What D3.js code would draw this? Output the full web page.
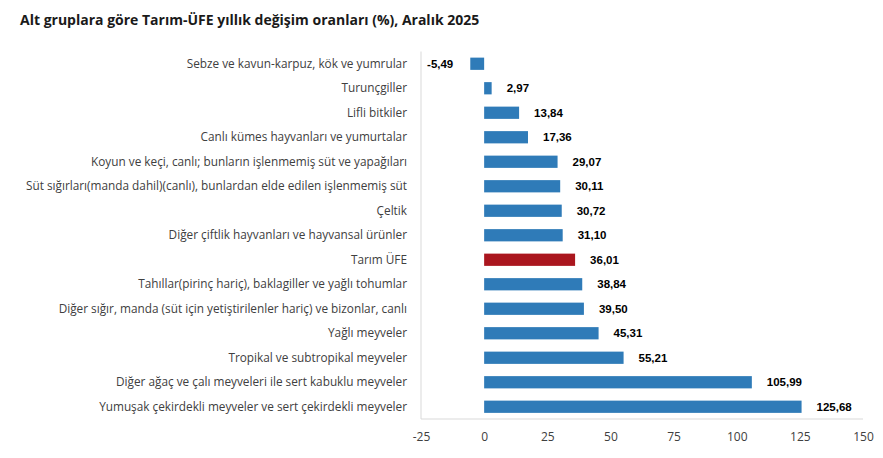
<!DOCTYPE html>
<html><head><meta charset="utf-8">
<script src="https://cdn.jsdelivr.net/npm/d3@7"></script>
<style>body{margin:0;background:#fff;} svg{display:block;}</style>
</head><body>
<svg id="c" width="883" height="458"></svg>
<script>
const categories = [
  "Sebze ve kavun-karpuz, kök ve yumrular",
  "Turunçgiller",
  "Lifli bitkiler",
  "Canlı kümes hayvanları ve yumurtalar",
  "Koyun ve keçi, canlı; bunların işlenmemiş süt ve yapağıları",
  "Süt sığırları(manda dahil)(canlı), bunlardan elde edilen işlenmemiş süt",
  "Çeltik",
  "Diğer çiftlik hayvanları ve hayvansal ürünler",
  "Tarım ÜFE",
  "Tahıllar(pirinç hariç), baklagiller ve yağlı tohumlar",
  "Diğer sığır, manda (süt için yetiştirilenler hariç) ve bizonlar, canlı",
  "Yağlı meyveler",
  "Tropikal ve subtropikal meyveler",
  "Diğer ağaç ve çalı meyveleri ile sert kabuklu meyveler",
  "Yumuşak çekirdekli meyveler ve sert çekirdekli meyveler"
];
const values = [-5.49, 2.97, 13.84, 17.36, 29.07, 30.11, 30.72, 31.10, 36.01, 38.84, 39.50, 45.31, 55.21, 105.99, 125.68];
const xTicks = [-25, 0, 25, 50, 75, 100, 125, 150];
const highlight = "Tarım ÜFE";
const title = "Alt gruplara göre Tarım-ÜFE yıllık değişim oranları (%), Aralık 2025";

const svg = d3.select("#c");
const mLeft = 421, mRight = 863, mTop = 51.5, mBottom = 419;

svg.append("text").attr("x", 20).attr("y", 25)
  .attr("font-family", "'Open Sans', 'Noto Sans', sans-serif")
  .attr("font-weight", "bold").attr("font-size", 14).attr("fill", "#1a1a1a")
  .text(title);

const x = d3.scaleLinear().domain([-25, 150]).range([mLeft, mRight]);
const y = d3.scaleBand().domain(categories).range([mTop, mBottom]).paddingInner(0.5).paddingOuter(0.25);

svg.append("line").attr("x1", mLeft).attr("x2", mLeft).attr("y1", mTop).attr("y2", mBottom)
  .attr("stroke", "#d9d9d9").attr("stroke-width", 1);
svg.append("line").attr("x1", mLeft).attr("x2", mRight).attr("y1", mBottom).attr("y2", mBottom)
  .attr("stroke", "#d9d9d9").attr("stroke-width", 1);

const xa = svg.append("g").attr("transform", `translate(0,${mBottom})`)
  .call(d3.axisBottom(x).tickValues(xTicks).tickSize(0).tickPadding(13).tickFormat(d => String(d)));
xa.select(".domain").remove();
xa.selectAll("text").attr("font-family", "'Open Sans', 'Noto Sans', sans-serif")
  .attr("font-size", 12).attr("fill", "#404040");

const ya = svg.append("g").attr("transform", `translate(${mLeft},0)`)
  .call(d3.axisLeft(y).tickSize(0).tickPadding(14));
ya.select(".domain").remove();
ya.selectAll("text").attr("font-family", "'Open Sans', 'Noto Sans', sans-serif")
  .attr("font-size", 11.8).attr("fill", "#404040");

const data = categories.map((c, i) => ({c, v: values[i]}));

svg.append("g").selectAll("rect").data(data).join("rect")
  .attr("x", d => x(Math.min(0, d.v)))
  .attr("width", d => Math.abs(x(d.v) - x(0)))
  .attr("y", d => y(d.c))
  .attr("height", y.bandwidth())
  .attr("fill", d => d.c === highlight ? "#aa161e" : "#2f7bb8");

const fmt = v => v.toFixed(2).replace(".", ",");
svg.append("g").selectAll("text").data(data).join("text")
  .attr("x", d => d.v < 0 ? x(d.v) - 17 : x(d.v) + 15)
  .attr("y", d => y(d.c) + y.bandwidth() / 2)
  .attr("dy", "0.35em")
  .attr("text-anchor", d => d.v < 0 ? "end" : "start")
  .attr("font-family", "'Liberation Sans', Arial, sans-serif")
  .attr("font-weight", "bold").attr("font-size", 11.5).attr("fill", "#000")
  .text(d => fmt(d.v));
</script>
</body></html>
